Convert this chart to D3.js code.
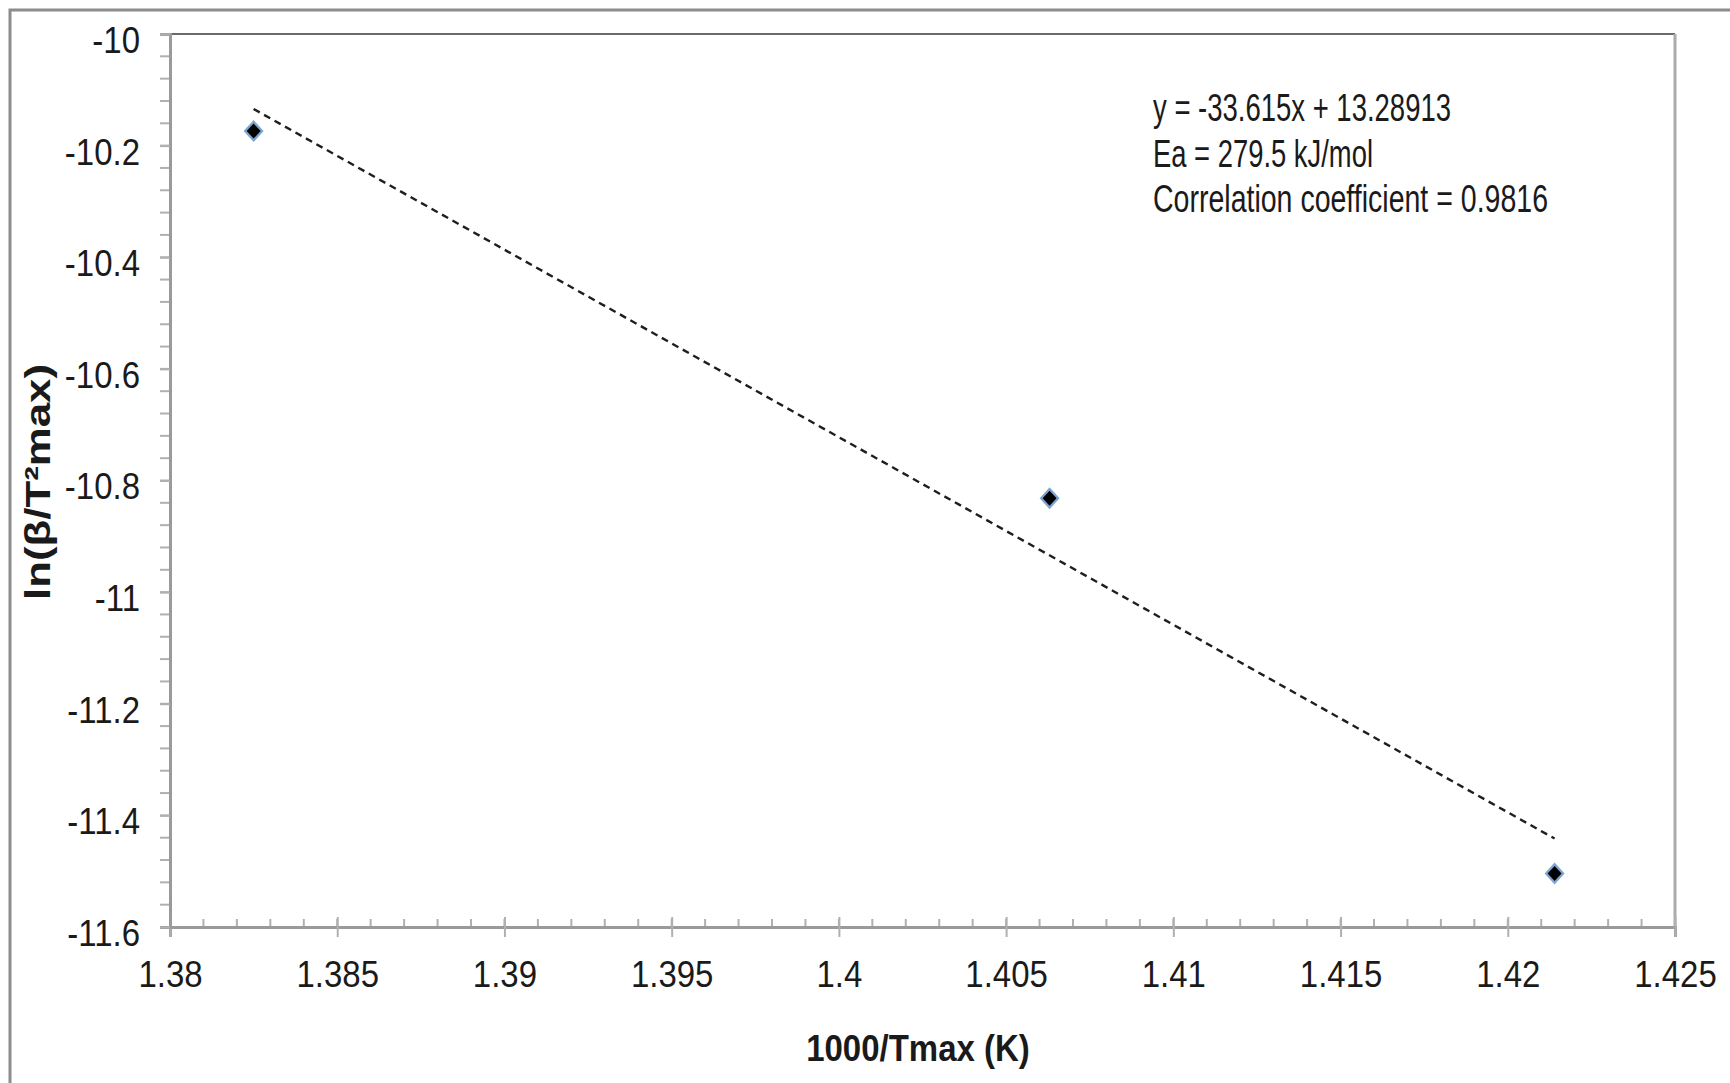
<!DOCTYPE html>
<html>
<head>
<meta charset="utf-8">
<script src="https://cdn.jsdelivr.net/npm/d3@7"></script>
<style>
  body { margin: 0; background: #fff; }
  text { font-family: "Liberation Sans", Arial, sans-serif; }
</style>
</head>
<body>
<div id="chart"></div>
<script>
const W = 1730, H = 1083;
const m = {left: 170, top: 34, right: 1675, bottom: 927};
const stretch = 1.12; // the source picture is a little taller than wide

// data
const xTicks = [1.38, 1.385, 1.39, 1.395, 1.4, 1.405, 1.41, 1.415, 1.42, 1.425];
const yTicks = [-10, -10.2, -10.4, -10.6, -10.8, -11, -11.2, -11.4, -11.6];
const invT = [1.3825, 1.4063, 1.4214];
const lnBeta = [-10.174, -10.832, -11.504];
const noteLines = ["y = -33.615x + 13.28913", "Ea = 279.5 kJ/mol", "Correlation coefficient = 0.9816"];
const noteWidths = [298, 220, 395];

let svg = d3.select("#chart").append("svg")
    .attr("width", W)
    .attr("height", H);

// outer chart border (only top and left are in view)
svg.append("path")
   .attr("d", `M10,${H} V10 H${W}`)
   .attr("fill", "none")
   .attr("stroke", "#8c8c8c")
   .attr("stroke-width", 3);

let x = d3.scaleLinear().domain([1.38, 1.425]).range([m.left, m.right]);
let y = d3.scaleLinear().domain([-11.6, -10]).range([m.bottom, m.top]);

// plot frame top / right
svg.append("line")
   .attr("x1", m.left).attr("x2", m.right)
   .attr("y1", m.top).attr("y2", m.top)
   .attr("stroke", "#6a6a6a").attr("stroke-width", 2);
svg.append("line")
   .attr("x1", m.right).attr("x2", m.right)
   .attr("y1", m.top).attr("y2", m.bottom)
   .attr("stroke", "#ababab").attr("stroke-width", 3);

// minor ticks
let xMinor = d3.range(0, 46).map(i => 1.38 + i * 0.001);
let yMinor = d3.range(0, 41).map(i => -11.6 + i * 0.04);

svg.append("g")
   .selectAll("line")
   .data(xMinor)
   .join("line")
   .attr("x1", d => x(d)).attr("x2", d => x(d))
   .attr("y1", m.bottom - 8).attr("y2", m.bottom)
   .attr("stroke", "#b0b0b0").attr("stroke-width", 2);

svg.append("g")
   .selectAll("line")
   .data(yMinor)
   .join("line")
   .attr("x1", m.left - 10).attr("x2", m.left)
   .attr("y1", d => y(d)).attr("y2", d => y(d))
   .attr("stroke", "#b0b0b0").attr("stroke-width", 2);

// x axis
let gx = svg.append("g")
    .attr("transform", `translate(0,${m.bottom})`)
    .call(d3.axisBottom(x).tickValues(xTicks).tickSize(10)
          .tickFormat(d => String(+d.toFixed(3))));
gx.select(".domain").attr("stroke", "#9a9a9a").attr("stroke-width", 3);
gx.selectAll(".tick line")
  .attr("y1", -10).attr("y2", 10)
  .attr("stroke", "#b0b0b0").attr("stroke-width", 2);
gx.selectAll(".tick text")
  .attr("y", 34 / stretch).attr("dy", "0.71em")
  .attr("transform", `scale(1,${stretch})`)
  .attr("font-size", 33).attr("fill", "#1a1a1a");

// y axis
let gy = svg.append("g")
    .attr("transform", `translate(${m.left},0)`)
    .call(d3.axisLeft(y).tickValues(yTicks).tickSize(10)
          .tickFormat(d => String(+d.toFixed(1))));
gy.select(".domain").attr("stroke", "#9a9a9a").attr("stroke-width", 3);
gy.selectAll(".tick line").attr("stroke", "#b0b0b0").attr("stroke-width", 2);
gy.selectAll(".tick text")
  .attr("x", -30).attr("dy", "0.5em")
  .attr("transform", `scale(1,${stretch})`)
  .attr("font-size", 33).attr("fill", "#1a1a1a");

// axis titles
svg.append("text")
   .attr("transform", `translate(918,1061) scale(1,${stretch})`)
   .attr("text-anchor", "middle")
   .attr("font-size", 33).attr("font-weight", "bold").attr("fill", "#1a1a1a")
   .text("1000/Tmax (K)");

svg.append("text")
   .attr("transform", "translate(50,482) rotate(-90)")
   .attr("text-anchor", "middle")
   .attr("font-size", 35).attr("font-weight", "bold").attr("fill", "#1a1a1a")
   .attr("textLength", 236).attr("lengthAdjust", "spacingAndGlyphs")
   .text("ln(β/T²max)");

// least-squares trend line from the points
let mx = d3.mean(invT), my = d3.mean(lnBeta);
let sxy = d3.sum(invT, (v, i) => (v - mx) * (lnBeta[i] - my));
let sxx = d3.sum(invT, v => (v - mx) * (v - mx));
let slope = sxy / sxx, icpt = my - slope * mx;
let xEnds = d3.extent(invT);

svg.append("line")
   .attr("x1", x(xEnds[0])).attr("y1", y(slope * xEnds[0] + icpt))
   .attr("x2", x(xEnds[1])).attr("y2", y(slope * xEnds[1] + icpt))
   .attr("stroke", "#1e1e1e").attr("stroke-width", 2.4)
   .attr("stroke-dasharray", "7,5");

// markers
let pts = svg.append("g")
    .selectAll("g")
    .data(invT.map((v, i) => [v, lnBeta[i]]))
    .join("g")
    .attr("transform", d => `translate(${x(d[0])},${y(d[1])})`);
pts.append("path")
   .attr("d", "M0,-11 L10,0 L0,11 L-10,0 Z")
   .attr("fill", "#5b8fc9").attr("opacity", 0.8);
pts.append("path")
   .attr("d", "M0,-7.5 L7,0 L0,7.5 L-7,0 Z")
   .attr("fill", "#000");

// annotation
svg.append("g")
   .selectAll("text")
   .data(noteLines)
   .join("text")
   .attr("transform", (d, i) => `translate(1153,${121 + i * 45.5}) scale(1,${stretch})`)
   .attr("font-family", "Carlito, Calibri, Lato, sans-serif")
   .attr("font-size", 34)
   .attr("fill", "#1a1a1a")
   .attr("textLength", (d, i) => noteWidths[i])
   .attr("lengthAdjust", "spacingAndGlyphs")
   .text(d => d);
</script>
</body>
</html>
